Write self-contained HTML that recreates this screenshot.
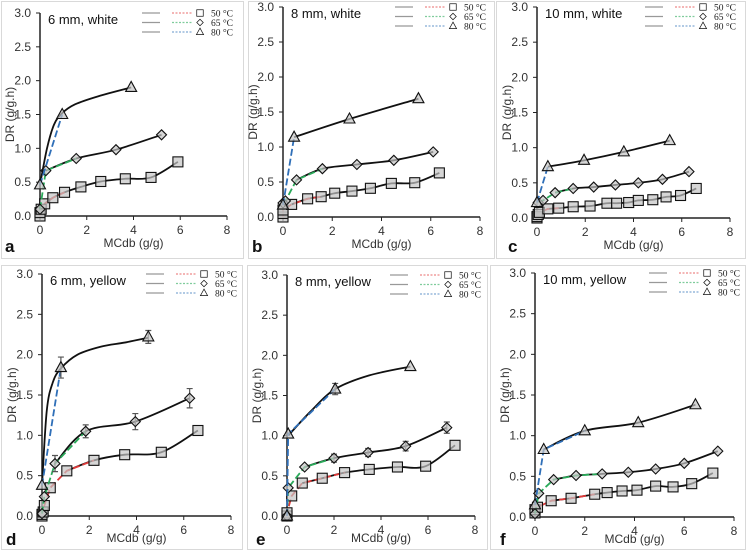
<!DOCTYPE html>
<html><head><meta charset="utf-8"><style>
html,body{margin:0;padding:0;background:#fff}
svg{display:block}
text{font-family:"Liberation Sans",sans-serif}
text.serif{font-family:"Liberation Serif",serif}
</style></head><body>
<svg id="fig" width="746" height="551" viewBox="0 0 746 551" xmlns="http://www.w3.org/2000/svg"></svg>
<script>
// ---- data: [MCdb, DR] ----
const a50=[[0,0],[0,0.05],[0.05,0.1],[0.2,0.18],[0.55,0.27],[1.05,0.35],[1.75,0.43],[2.6,0.51],[3.65,0.55],[4.75,0.57],[5.9,0.8]];
const a65=[[0,0.1],[0.25,0.67],[1.55,0.85],[3.25,0.98],[5.2,1.2]];
const a80=[[0,0.46],[0.95,1.5],[3.9,1.9]];
const b50=[[0,0],[0,0.05],[0,0.1],[0.35,0.18],[1.0,0.26],[1.55,0.29],[2.1,0.34],[2.8,0.37],[3.55,0.41],[4.4,0.48],[5.35,0.49],[6.35,0.63]];
const b65=[[0,0.2],[0.1,0.23],[0.55,0.53],[1.6,0.69],[3.0,0.75],[4.5,0.81],[6.1,0.93]];
const b80=[[0,0.17],[0.45,1.14],[2.7,1.4],[5.5,1.69]];
const c50=[[0,0],[0,0.02],[0.05,0.05],[0.1,0.08],[0.45,0.13],[0.9,0.14],[1.5,0.16],[2.2,0.17],[2.9,0.21],[3.3,0.21],[3.8,0.22],[4.2,0.25],[4.8,0.26],[5.35,0.3],[5.95,0.32],[6.6,0.42]];
const c65=[[0.05,0.22],[0.25,0.25],[0.75,0.36],[1.5,0.42],[2.35,0.44],[3.25,0.47],[4.2,0.5],[5.2,0.55],[6.3,0.66]];
const c80=[[0,0.22],[0.45,0.73],[1.95,0.82],[3.6,0.94],[5.5,1.1]];
const d50=[[0,0],[0,0.02],[0.05,0.05],[0.1,0.13],[0.35,0.35],[1.05,0.56],[2.2,0.69],[3.5,0.76],[5.05,0.79],[6.6,1.06]];
const d65=[[0,0.03],[0.1,0.24],[0.55,0.65],[1.85,1.05],[3.95,1.17],[6.25,1.46]];
const d65err=[0,0,0.1,0.08,0.1,0.12];
const d80=[[0,0.38],[0.8,1.84],[4.5,2.22]];
const d80err=[0,0.13,0.08];
const e50=[[0,0],[0,0.04],[0.2,0.25],[0.65,0.41],[1.5,0.47],[2.45,0.54],[3.5,0.58],[4.7,0.61],[5.9,0.62],[7.15,0.88]];
const e65=[[0,0],[0.05,0.35],[0.75,0.61],[2.0,0.72],[3.45,0.79],[5.05,0.87],[6.8,1.1]];
const e65err=[0,0,0,0.05,0.05,0.06,0.07];
const e80=[[0,0],[0.05,1.02],[2.05,1.58],[5.25,1.86]];
const e80err=[0,0,0.07,0];
const f50=[[0,0.05],[0,0.09],[0.1,0.12],[0.65,0.2],[1.45,0.23],[2.4,0.28],[2.9,0.3],[3.5,0.32],[4.1,0.33],[4.85,0.38],[5.55,0.37],[6.3,0.41],[7.15,0.54]];
const f65=[[0,0.04],[0.15,0.29],[0.75,0.46],[1.65,0.51],[2.7,0.53],[3.75,0.55],[4.85,0.59],[6.0,0.66],[7.35,0.81]];
const f80=[[0,0.15],[0.35,0.83],[2.0,1.06],[4.15,1.16],[6.45,1.38]];
// fitted curve samples (black lines)
const a80fit=[[0,0.46],[0.3,1.0],[0.6,1.35],[0.95,1.52],[1.5,1.65],[2.5,1.77],[3.9,1.9]];
const d80fit=[[0,0.38],[0.2,1.3],[0.45,1.65],[0.8,1.83],[1.5,2.0],[2.5,2.1],[3.5,2.15],[4.5,2.21]];
const e80fit=[[0.05,1.0],[1,1.3],[2.05,1.58],[3.5,1.75],[5.25,1.86]];
const xTicks=[0,2,4,6,8];
const yTicks=["0.0","0.5","1.0","1.5","2.0","2.5","3.0"];
const legendLabels=["50 \u00B0C","65 \u00B0C","80 \u00B0C"];

const NS="http://www.w3.org/2000/svg";
const svg=document.getElementById('fig');
function mk(tag,attrs,parent,txt){const e=document.createElementNS(NS,tag);for(const k in attrs)e.setAttribute(k,attrs[k]);if(txt!==undefined)e.textContent=txt;(parent||svg).appendChild(e);return e;}
function catmull(pts){if(pts.length<2)return'';let d='M'+pts[0][0]+','+pts[0][1];for(let i=0;i<pts.length-1;i++){const p0=pts[i-1]||pts[i],p1=pts[i],p2=pts[i+1],p3=pts[i+2]||p2;const c1=[p1[0]+(p2[0]-p0[0])/6,p1[1]+(p2[1]-p0[1])/6],c2=[p2[0]-(p3[0]-p1[0])/6,p2[1]-(p3[1]-p1[1])/6];d+=' C'+c1+' '+c2+' '+p2;}return d;}

const panels=[
 {id:'a',title:'6 mm, white',box:[1,1,242,257],x0:40,x8:227,yT:13,yB:216,s:[a50,a65,a80],fs:[3,1,0],de:[5,2,1],fit:[null,null,a80fit],err:[null,null,null],lx:5,ly:252,xty:247},
 {id:'b',title:'8 mm, white',box:[248,1,246,257],x0:283,x8:480,yT:7,yB:217,s:[b50,b65,b80],fs:[3,2,1],de:[5,3,1],fit:[null,null,null],err:[null,null,null],lx:252,ly:252,xty:248},
 {id:'c',title:'10 mm, white',box:[496,1,249,257],x0:537,x8:730,yT:7,yB:218,s:[c50,c65,c80],fs:[4,2,1],de:[5,3,1],fit:[null,null,null],err:[null,null,null],lx:508,ly:252,xty:249},
 {id:'d',title:'6 mm, yellow',box:[1,265,241,284],x0:42,x8:231,yT:274,yB:516,s:[d50,d65,d80],fs:[5,2,0],de:[6,3,1],fit:[null,null,d80fit],err:[null,d65err,d80err],lx:6,ly:545,xty:542},
 {id:'e',title:'8 mm, yellow',box:[247,265,240,284],x0:287,x8:475,yT:275,yB:516,s:[e50,e65,e80],fs:[3,2,1],de:[5,3,2],fit:[null,null,e80fit],err:[null,e65err,e80err],lx:256,ly:545,xty:542},
 {id:'f',title:'10 mm, yellow',box:[490,265,255,284],x0:535,x8:734,yT:273,yB:517,s:[f50,f65,f80],fs:[3,2,1],de:[5,4,2],fit:[null,null,null],err:[null,null,null],lx:500,ly:545,xty:543}
];
const dashCol=['#e03a3a','#2aaa5a','#2f6fb8'];
const mkTypes=['square','diamond','triangle'];

function marker(g,type,cx,cy){
  let m;
  if(type==='square')m=mk('rect',{x:cx-5,y:cy-5,width:10,height:10},g);
  else if(type==='diamond')m=mk('polygon',{points:`${cx},${cy-5} ${cx+5},${cy} ${cx},${cy+5} ${cx-5},${cy}`},g);
  else m=mk('polygon',{points:`${cx},${cy-6} ${cx+5.5},${cy+4} ${cx-5.5},${cy+4}`},g);
  m.setAttribute('fill','#c4c4c4');m.setAttribute('fill-opacity','0.7');m.setAttribute('stroke','#111');m.setAttribute('stroke-width','1.1');
  
  
  return m;
}

panels.forEach(p=>{
  const g=mk('g',{},svg);
  
  
  const X=v=>p.x0+(p.x8-p.x0)*v/8, Y=v=>p.yB-(p.yB-p.yT)*v/3;
  const fr=mk('rect',{x:p.box[0]+0.5,y:p.box[1]+0.5,width:p.box[2],height:p.box[3],fill:'none',stroke:'#d9d9d9'},g);
  
  const ya=mk('line',{x1:p.x0,y1:p.yT,x2:p.x0,y2:p.yB,stroke:'#222','stroke-width':1.5},g);
  
  const xa=mk('line',{x1:p.x0,y1:p.yB,x2:p.x8,y2:p.yB,stroke:'#222','stroke-width':1.5},g);
  
  yTicks.forEach((t,i)=>{const yy=Y(parseFloat(t));mk('line',{x1:p.x0-4,y1:yy,x2:p.x0,y2:yy,stroke:'#222'},g);
    const tl=mk('text',{x:p.x0-9,y:yy+4,'text-anchor':'end','font-size':12,fill:'#333'},g,t);
    });
  xTicks.forEach(t=>{const xx=X(t);mk('line',{x1:xx,y1:p.yB,x2:xx,y2:p.yB+4,stroke:'#222'},g);
    const tl=mk('text',{x:xx,y:p.yB+18,'text-anchor':'middle','font-size':12,fill:'#333'},g,String(t));
    });
  const xt=mk('text',{x:(p.x0+p.x8)/2,y:p.xty,'text-anchor':'middle','font-size':12,fill:'#333'},g,'MCdb (g/g)');
  
  const yc=Y(1.5);
  const yt=mk('text',{x:p.x0-26,y:yc,'text-anchor':'middle','font-size':12,fill:'#333',transform:`rotate(-90 ${p.x0-26} ${yc})`},g,'DR (g/g.h)');
  
  const pl=mk('text',{x:p.lx,y:p.ly,'font-size':17,'font-weight':'bold',fill:'#111'},g,p.id);
  
  const ti=mk('text',{x:p.x0+8,y:p.yT+11,'font-size':13,fill:'#111'},g,p.title);
  
  legendLabels.forEach((lab,i)=>{const ly=p.yT+i*9.5;
    mk('line',{x1:p.x8-85,y1:ly,x2:p.x8-67,y2:ly,stroke:'#999','stroke-width':1.2},g);
    mk('line',{x1:p.x8-55,y1:ly,x2:p.x8-35,y2:ly,stroke:dashCol[i],'stroke-width':1.2,'stroke-dasharray':'2,1.5','stroke-opacity':0.6},g);
    const lm=marker(g,mkTypes[i],p.x8-27,ly);lm.setAttribute('transform',`translate(${p.x8-27} ${ly}) scale(0.65) translate(${-(p.x8-27)} ${-ly})`);lm.setAttribute('fill','none');
    const lt=mk('text',{x:p.x8-16,y:ly+3.5,'font-size':9.5,fill:'#222','class':'serif'},g,lab);
    });
  p.s.forEach((ser,si)=>{
    const sg=mk('g',{},g);
    
    
    const fitPts=(p.fit[si]||ser.slice(p.fs[si])).map(q=>[X(q[0]),Y(q[1])]);
    const fl=mk('path',{d:catmull(fitPts),fill:'none',stroke:'#111','stroke-width':1.8},sg);
    
    const dp=ser.slice(0,p.de[si]+1).map(q=>X(q[0])+','+Y(q[1])).join(' ');
    const dl=mk('polyline',{points:dp,fill:'none',stroke:dashCol[si],'stroke-width':1.8,'stroke-dasharray':'7,3'},sg);
    
    ser.forEach((q,qi)=>{const cx=X(q[0]),cy=Y(q[1]);
      const er=p.err[si]?p.err[si][qi]:0;
      if(er>0){const t=Y(q[1]+er),b=Y(q[1]-er);
        const el=mk('path',{d:`M${cx},${t}V${b}M${cx-3},${t}H${cx+3}M${cx-3},${b}H${cx+3}`,stroke:'#555','stroke-width':1.2,fill:'none'},sg);
        }
      marker(sg,mkTypes[si],cx,cy);});
  });
});
</script>
</body></html>
